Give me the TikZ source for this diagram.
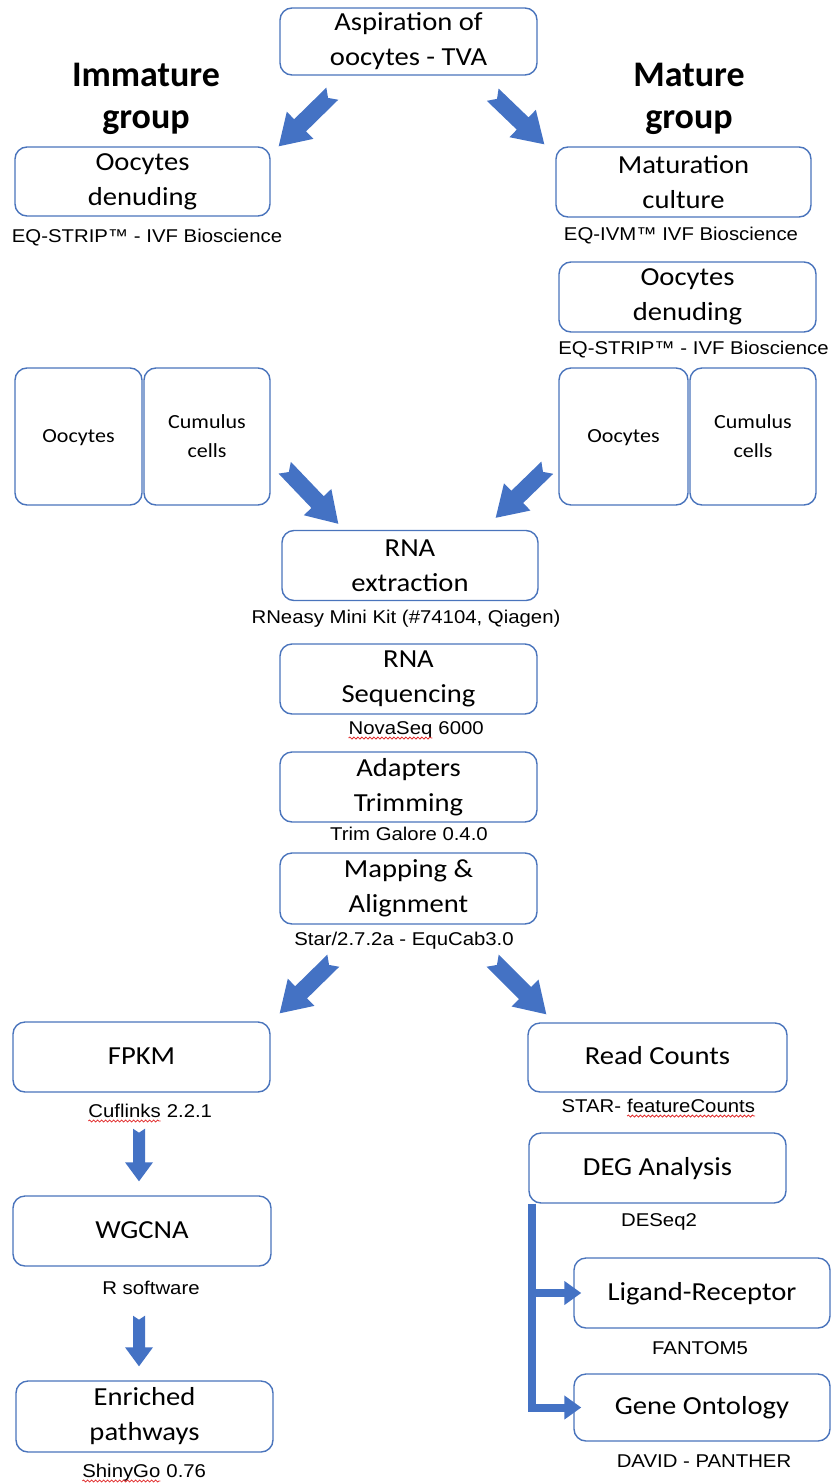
\documentclass[tikz,border=0pt]{standalone}
\usepackage{fontspec}
\usetikzlibrary{calc,decorations.pathmorphing,arrows.meta}
\newfontfamily\boxfont{Carlito}[FakeStretch=1.1]
\newfontfamily\hfont{Carlito}
\newfontfamily\capfont{Liberation Sans}[FakeStretch=1.1]
\definecolor{oblue}{HTML}{4472C4}
\definecolor{bord}{HTML}{4A74BC}
\definecolor{spellred}{HTML}{E02828}
\newcommand\blockarr[6]{%
  \coordinate (bah) at ($(#2)!#5!(#1)$);
  \fill[oblue] ($(#1)!#3!90:(#2)$) -- ($(bah)!#3!90:(#2)$) -- ($(bah)!#4!90:(#2)$) -- (#2)
    -- ($(bah)!#4!-90:(#2)$) -- ($(bah)!#3!-90:(#2)$) -- ($(#1)!#3!-90:(#2)$)
    -- ($(#1)!#6!(#2)$) -- cycle;}
\newcommand\spellerr[1]{\tikz[baseline=(sw.base)]{\node[inner sep=0pt,outer sep=0pt] (sw) {#1};
  \draw[spellred,line width=0.8pt,decorate,decoration={snake,amplitude=1pt,segment length=4pt}]
  ([yshift=-4pt]sw.base west) -- ([yshift=-4pt]sw.base east);}}
\begin{document}
\begin{tikzpicture}[x=1pt,y=-1pt,
  box/.style={draw=bord,line width=1.4pt,fill=white,rounded corners=12pt,align=center,
    inner sep=2pt,font=\boxfont\fontsize{26}{35}\selectfont},
  one/.style={box,execute at begin node=\strut,execute at end node=\strut},
  two/.style={box,execute at begin node={\rule{0pt}{39pt}}},
  sone/.style={box,font=\boxfont\fontsize{20}{29}\selectfont,
    execute at begin node=\strut,execute at end node=\strut},
  stwo/.style={box,font=\boxfont\fontsize{20}{29}\selectfont,
    execute at begin node={\rule{0pt}{40.5pt}}},
  capt/.style={anchor=base,inner sep=0pt,font=\capfont\fontsize{18.5}{22}\selectfont},
  hdg/.style={align=center,inner sep=0pt,font=\hfont\bfseries\fontsize{36}{42}\selectfont},
  brbar/.style={draw=oblue,line width=8pt},
  brarrow/.style={draw=oblue,line width=8pt,-{Triangle[length=17pt,width=23pt]}}]
\useasboundingbox (0,0) rectangle (832,1483);
% headings
\node[hdg] (himm) at (146,99) {Immature\\group};
\node[hdg] (hmat) at (689,99) {Mature\\group};
% top
\node[two,minimum width=257pt,minimum height=67pt] (asp) at (408.5,41.5) {Aspiration of\\oocytes - TVA};
\node[two,minimum width=255pt,minimum height=69pt] (den1) at (142.5,181.5) {Oocytes\\denuding};
\node[capt] (cden1) at (147,242) {EQ-STRIP™ - IVF Bioscience};
\node[two,minimum width=255pt,minimum height=70pt] (mat) at (683.5,182) {Maturation\\culture};
\node[capt] (cmat) at (681,240) {EQ-IVM™ IVF Bioscience};
\node[two,minimum width=257pt,minimum height=70pt] (den2) at (687.5,297) {Oocytes\\denuding};
\node[capt] (cden2) at (693.5,354) {EQ-STRIP™ - IVF Bioscience};
% sample boxes
\node[sone,minimum width=127pt,minimum height=137pt] (ooc1) at (78.5,436.5) {Oocytes};
\node[stwo,minimum width=126pt,minimum height=137pt] (cum1) at (207,436.5) {Cumulus\\cells};
\node[sone,minimum width=129pt,minimum height=137pt] (ooc2) at (623.5,436.5) {Oocytes};
\node[stwo,minimum width=126pt,minimum height=137pt] (cum2) at (753,436.5) {Cumulus\\cells};
% central pipeline
\node[two,minimum width=256pt,minimum height=70pt] (rna) at (410,565.5) {RNA\\extraction};
\node[capt] (crna) at (406,623) {RNeasy Mini Kit (\#74104, Qiagen)};
\node[two,minimum width=257pt,minimum height=70pt] (seq) at (408.5,679) {RNA\\Sequencing};
\node[capt] (cseq) at (416,734) {\spellerr{NovaSeq} 6000};
\node[two,minimum width=257pt,minimum height=70pt] (trim) at (408.5,787) {Adapters\\Trimming};
\node[capt] (ctrim) at (409,840) {Trim Galore 0.4.0};
\node[two,minimum width=257pt,minimum height=71pt] (map) at (408.5,888.5) {Mapping \&\\Alignment};
\node[capt] (cmap) at (404,945) {Star/2.7.2a - EquCab3.0};
% left branch
\node[one,minimum width=257pt,minimum height=70pt] (fpkm) at (141.5,1057) {FPKM};
\node[capt] (cfpkm) at (150,1117) {\spellerr{Cuflinks} 2.2.1};
\node[one,minimum width=258pt,minimum height=70pt] (wgcna) at (142,1231) {WGCNA};
\node[capt] (cwgcna) at (151,1294) {R software};
\node[two,minimum width=257pt,minimum height=71pt] (enr) at (144.5,1416.5) {Enriched\\pathways};
\node[capt] (cenr) at (144,1477) {\spellerr{ShinyGo} 0.76};
% right branch
\node[one,minimum width=259pt,minimum height=69pt] (reads) at (657.5,1057.5) {Read Counts};
\node[capt] (creads) at (658.5,1112) {STAR- \spellerr{featureCounts}};
\node[one,minimum width=257pt,minimum height=70pt] (deg) at (657.5,1168) {DEG Analysis};
\node[capt] (cdeg) at (659,1226) {DESeq2};
\node[one,minimum width=256pt,minimum height=70pt] (lig) at (702,1293) {Ligand-Receptor};
\node[capt] (clig) at (700,1354) {FANTOM5};
\node[one,minimum width=256pt,minimum height=67pt] (go) at (702,1407.5) {Gene Ontology};
\node[capt] (cgo) at (704,1467) {DAVID - PANTHER};
% block arrows
\coordinate (a1t) at ([xshift=53pt,yshift=-18pt]asp.south west);
\coordinate (a1h) at ([xshift=8pt]den1.north east);
\coordinate (a2t) at ([xshift=-45pt,yshift=-19pt]asp.south east);
\coordinate (a2h) at ([xshift=-11pt,yshift=2pt]mat.north west);
\coordinate (a3t) at ([xshift=14pt,yshift=38pt]cum1.south east);
\coordinate (a3h) at ([xshift=57pt,yshift=6pt]rna.north west);
\coordinate (a4t) at ([xshift=-11pt,yshift=38pt]ooc2.south west);
\coordinate (a4h) at ([xshift=-43pt,yshift=12pt]rna.north east);
\coordinate (a5t) at ([xshift=54pt,yshift=-36pt]map.south west);
\coordinate (a5h) at ([xshift=9pt,yshift=8pt]fpkm.north east);
\coordinate (a6t) at ([xshift=-45pt,yshift=-36pt]map.south east);
\coordinate (a6h) at ([xshift=19pt,yshift=8pt]reads.north west);
\blockarr{a1t}{a1h}{8.5pt}{19pt}{30pt}{6pt}
\blockarr{a2t}{a2h}{8.5pt}{19pt}{30pt}{6pt}
\blockarr{a3t}{a3h}{8.5pt}{19pt}{30pt}{6pt}
\blockarr{a4t}{a4h}{8.5pt}{19pt}{30pt}{6pt}
\blockarr{a5t}{a5h}{8.5pt}{19pt}{30pt}{6pt}
\blockarr{a6t}{a6h}{8.5pt}{19pt}{30pt}{6pt}
\coordinate (v1t) at ([xshift=-2.5pt,yshift=-36pt]fpkm.south);
\coordinate (v1h) at ([xshift=-3pt,yshift=14pt]wgcna.north);
\coordinate (v2t) at ([xshift=-3pt,yshift=-49pt]wgcna.south);
\coordinate (v2h) at ([xshift=-5.5pt,yshift=14pt]enr.north);
\blockarr{v1t}{v1h}{6pt}{14pt}{19pt}{4pt}
\blockarr{v2t}{v2h}{6pt}{14pt}{19pt}{4pt}
% bracket from DEG analysis
\coordinate (bx) at ([xshift=4pt]deg.south west);
\draw[brbar] (bx) -- ([yshift=-4pt]bx |- go.west);
\draw[brarrow] ([xshift=-4pt]bx |- lig.west) -- ([xshift=8pt]lig.west);
\draw[brarrow] ([xshift=-4pt]bx |- go.west) -- ([xshift=8pt]go.west);
\end{tikzpicture}
\end{document}
